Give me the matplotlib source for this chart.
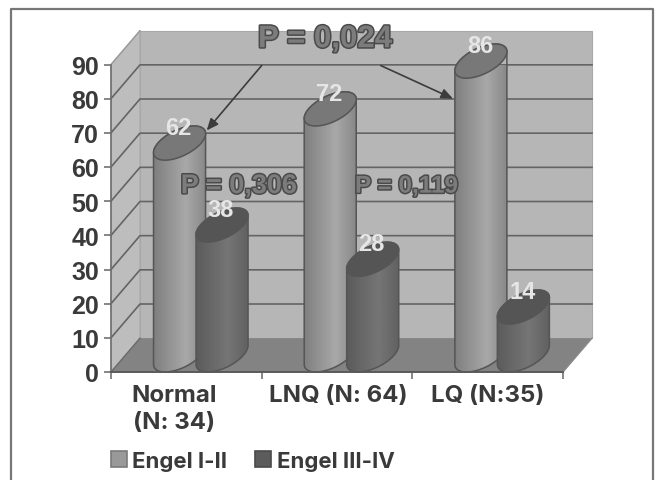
import numpy as np
import matplotlib
matplotlib.use("Agg")
import matplotlib.pyplot as plt
import matplotlib.patheffects as pe
from matplotlib.patches import Polygon, Patch

categories = ["Normal\n(N: 34)", "LNQ (N: 64)", "LQ (N:35)"]
category_label_pos = [0.42, 1.51, 2.50]
series_names = ["Engel I-II", "Engel III-IV"]
engel_1_2 = [62, 72, 86]
engel_3_4 = [38, 28, 14]
y_ticks = list(range(0, 100, 10))
x_ticks = [0, 1, 2, 3]
p_labels = ["P = 0,024", "P = 0,306", "P = 0,119"]

W, H = 656, 481
fig = plt.figure(figsize=(W / 100, H / 100), dpi=100, facecolor="white")
L, R, B, T = 111, 563, 373, 65.5
ax = fig.add_axes([L / W, 1 - B / H, (R - L) / W, (B - T) / H])
ax.set_facecolor("none")
ax.set_xlim(0, 3)
ax.set_ylim(0, 90)
for s in ax.spines.values():
    s.set_visible(False)

PX = 3 / (R - L)      # category units per pixel
DX, DY = 29 * PX, 9.9  # depth of the box

# frame round the figure (open at the bottom)
fig.add_artist(plt.Line2D([10.5 / W, 10.5 / W, 653 / W, 653 / W], [0, 1 - 10 / H, 1 - 10 / H, 0],
                          color="#777777", lw=1.6))

# walls and floor
ax.add_patch(Polygon([(DX, DY), (3 + DX, DY), (3 + DX, 90 + DY), (DX, 90 + DY)], fc="#b6b6b6", ec="#a8a8a8", lw=0.8, clip_on=False, zorder=1))
ax.add_patch(Polygon([(0, 0), (DX, DY), (DX, 90 + DY), (0, 90)], fc="#bdbdbd", ec="#a8a8a8", lw=0.8, clip_on=False, zorder=1))
ax.add_patch(Polygon([(0, 0), (3, 0), (3 + DX, DY), (DX, DY)], fc="#838383", ec="none", clip_on=False, zorder=1.5))
for v in y_ticks[1:-1]:
    ax.plot([0, DX, 3 + DX], [v, v + DY, v + DY], color="#646464", lw=1.2, clip_on=False, zorder=2)
ax.plot([0, DX], [0, DY], color="#6a6a6a", lw=1.0, clip_on=False, zorder=2)
ax.plot([0, DX], [90, 90 + DY], color="#9a9a9a", lw=1.0, clip_on=False, zorder=2)
ax.plot([3, 3 + DX], [0, DY], color="#8a8a8a", lw=1.0, clip_on=False, zorder=2)
ax.plot([0, 0], [0, 90], color="#6e6e6e", lw=1.2, clip_on=False, zorder=2)
ax.plot([0, 3], [0, 0], color="#5a5a5a", lw=1.4, clip_on=False, zorder=6)

A, Bk, C = 21.6 * PX, 14.5 * PX, 5.0
t0 = np.arctan2(Bk, A)


def ellipse_pts(cx, cy, ts):
    return np.column_stack([cx + A * np.cos(ts) + Bk * np.sin(ts), cy + C * np.sin(ts)])


def cylinder(cx, value, stops, top_color, z):
    base, top = C, value + C
    lower = ellipse_pts(cx, base, np.linspace(t0 + np.pi, t0 + 2 * np.pi, 60))
    upper = ellipse_pts(cx, top, np.linspace(t0, t0 + np.pi, 60))
    outline = Polygon(np.vstack([lower, upper]), closed=True, fc="none", ec="#555555", lw=1.1, clip_on=False, zorder=z + 0.2)
    ax.add_patch(outline)
    hw = np.hypot(A, Bk)
    pos = np.linspace(0, 1, 80)
    g = np.interp(pos, [0, 0.6, 1], stops)[None, :]
    im = ax.imshow(g, extent=[cx - hw, cx + hw, 0, value + 2 * C], cmap="gray", vmin=0, vmax=1,
                   aspect="auto", zorder=z, interpolation="bilinear", clip_on=True)
    im.set_clip_path(outline)
    cap = ellipse_pts(cx, top, np.linspace(0, 2 * np.pi, 120))
    ax.add_patch(Polygon(cap, closed=True, fc=top_color, ec="#555555", lw=1.1, clip_on=False, zorder=z + 0.3))


offsets = [0.455, 0.737]
for i, (a, b) in enumerate(zip(engel_1_2, engel_3_4)):
    cylinder(i + offsets[0], a, (0.50, 0.66, 0.53), "#787878", 3 + i)
    cylinder(i + offsets[1], b, (0.36, 0.46, 0.38), "#555555", 3.5 + i)
    for off, val in zip(offsets, (a, b)):
        ax.text(i + off - 1 * PX, val + 9.5, str(val), ha="center", va="center", color="#e6e6e6",
                fontsize=17, fontweight="bold", family="Liberation Sans", zorder=9, clip_on=False)
ax.set_xlim(0, 3)
ax.set_ylim(0, 90)

# axes ticks
ax.set_yticks(y_ticks)
ax.tick_params(axis="y", length=5, width=1.1, color="#666666", pad=3.5, labelcolor="#3a3a3a")
for lb in ax.get_yticklabels():
    lb.set_fontsize(18)
    lb.set_fontweight("bold")
    lb.set_family("Liberation Sans")
ax.set_xticks(x_ticks)
ax.set_xticklabels([])
ax.tick_params(axis="x", which="major", length=5, width=1.1, color="#666666")
ax.set_xticks(category_label_pos, minor=True)
ax.set_xticklabels(categories, minor=True, fontsize=17.3, fontweight="bold", family="Inter",
                   color="#3a3a3a", linespacing=1.25)
ax.tick_params(axis="x", which="minor", length=0, pad=9)

# legend
handles = [Patch(fc="#999999", ec="#7a7a7a", lw=1.2), Patch(fc="#5c5c5c", ec="#4a4a4a", lw=1.2)]
fig.legend(handles, series_names, loc="lower left", bbox_to_anchor=(110.5 / W, 1 - 472 / H), ncol=2, frameon=False,
           prop={"family": "Inter", "weight": "bold", "size": 16}, labelcolor="#3a3a3a", handlelength=0.72,
           handleheight=0.75, handletextpad=0.24, columnspacing=1.28, borderpad=0, borderaxespad=0)

# significance annotations
stroke = [pe.withStroke(linewidth=2.2, foreground="#4a4a4a")]
p_pos = [(1.42, 97.4), (0.85, 54.4), (1.96, 54.4)]
p_size = [22.5, 19.5, 17.5]
for s, (x, y), fs in zip(p_labels, p_pos, p_size):
    t = ax.text(x, y, s, ha="center", va="center", fontsize=fs, fontweight="bold", family="Liberation Sans",
                color="#7c7c7c", zorder=12, clip_on=False)
    t.set_path_effects(stroke)
arrow = dict(arrowstyle="-|>,head_width=0.3,head_length=0.7", color="#3c3c3c", lw=1.2, shrinkA=0, shrinkB=0)
ax.annotate("", xy=(0.635, 70.7), xytext=(1.0, 89.7), arrowprops=arrow, annotation_clip=False, zorder=11)
ax.annotate("", xy=(2.27, 80.0), xytext=(1.79, 89.7), arrowprops=arrow, annotation_clip=False, zorder=11)

fig.savefig("out.png", dpi=100)
